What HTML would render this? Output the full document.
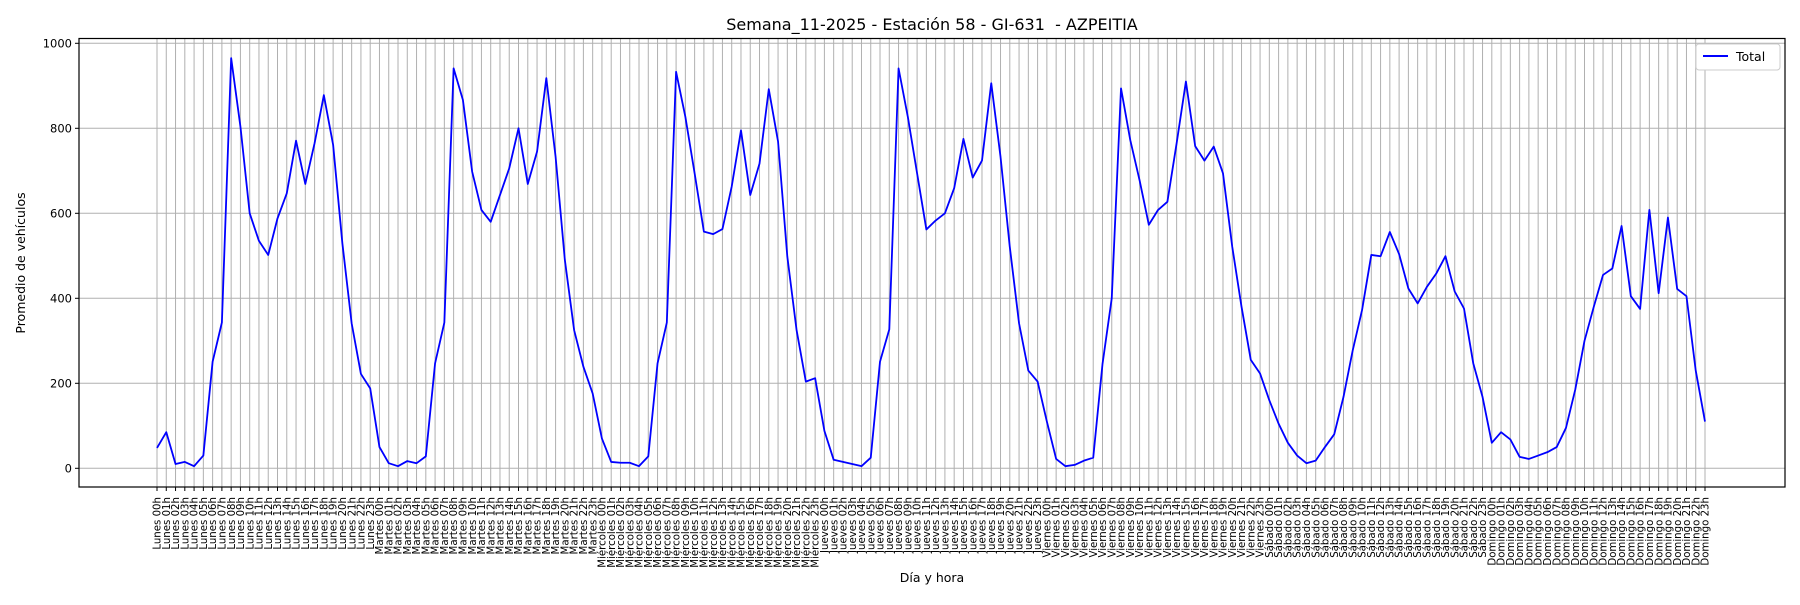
<!DOCTYPE html>
<html><head><meta charset="utf-8"><style>
body{margin:0;background:#fff;width:1800px;height:600px;overflow:hidden}
svg{font-family:"DejaVu Sans","Liberation Sans",sans-serif}
</style></head><body>
<svg id="chart" width="1800" height="600" viewBox="0 0 1800 600" xmlns="http://www.w3.org/2000/svg">
<rect width="1800" height="600" fill="#fff"/>
<text x="932" y="30" font-size="16" text-anchor="middle" style="white-space:pre">Semana_11-2025 - Estación 58 - GI-631  - AZPEITIA</text>
<text x="932" y="582" font-size="12.5" text-anchor="middle">Día y hora</text>
<text x="0" y="0" font-size="12.5" text-anchor="middle" transform="translate(25,263) rotate(-90)">Promedio de vehículos</text>
<g id="grid"></g><g id="ticks"></g><g id="series"></g>
<rect x="79" y="38.5" width="1706" height="448.5" fill="none" stroke="#000" stroke-width="1.2"/>
<g>
<rect x="1696" y="44" width="84" height="26" fill="#fff" stroke="#ccc" rx="3"/>
<line x1="1703" y1="56" x2="1728" y2="56" stroke="#0000ff" stroke-width="2"/>
<text x="1736" y="61" font-size="12.5">Total</text>
</g>
</svg>
<script>
const days = ["Lunes","Martes","Miércoles","Jueves","Viernes","Sábado","Domingo"];
const hours = ["00h","01h","02h","03h","04h","05h","06h","07h","08h","09h","10h","11h","12h","13h","14h","15h","16h","17h","18h","19h","20h","21h","22h","23h"];
const lunes = [48,85,10,15,5,30,251,343,965,804,600,535,502,588,647,771,669,765,878,761,529,341,222,188];
const martes = [50,12,5,17,12,28,247,343,941,867,698,608,580,643,706,800,669,745,918,733,490,325,239,176];
const miercoles = [70,15,13,13,5,28,247,343,933,827,694,557,551,563,663,795,643,717,892,769,498,325,204,212];
const jueves = [88,20,15,10,5,25,251,327,941,827,694,562,583,600,659,775,684,724,906,733,521,341,230,204];
const viernes = [110,22,5,8,18,25,245,400,894,772,678,573,608,627,765,910,758,724,757,694,521,380,255,223];
const sabado = [160,105,60,30,12,18,50,80,168,278,372,502,499,556,504,423,388,427,458,499,416,376,247,168];
const domingo = [60,85,68,27,22,30,38,50,95,185,300,380,455,470,570,405,375,608,412,590,422,405,230,110];
const yTicks = [0,200,400,600,800,1000];
const values = [].concat(lunes,martes,miercoles,jueves,viernes,sabado,domingo);
const labels = [];
days.forEach(d=>hours.forEach(h=>labels.push(d+" "+h)));
const NS="http://www.w3.org/2000/svg";
const X0=157, DX=(1705-157)/167;
const xs=i=>X0+i*DX;
const ys=v=>468.3-v*0.425;
function mk(tag,attrs,parent,txt){const e=document.createElementNS(NS,tag);for(const k in attrs)e.setAttribute(k,attrs[k]);if(txt!==undefined)e.textContent=txt;parent.appendChild(e);return e;}
const grid=document.getElementById('grid'), ticks=document.getElementById('ticks'), series=document.getElementById('series');
labels.forEach((l,i)=>{
  const x=xs(i);
  const g=mk('line',{x1:x,x2:x,y1:38.5,y2:487,stroke:'#b0b0b0','stroke-width':1},grid);
  
  
  const t=mk('line',{x1:x,x2:x,y1:487,y2:491,stroke:'#000','stroke-width':1},ticks);
  
  
  const tx=mk('text',{x:0,y:0,'font-size':10.2,'text-anchor':'end',transform:`translate(${x+3.6},497) rotate(-90)`},ticks,l);
  
  
});
yTicks.forEach(v=>{
  const y=ys(v);
  const g=mk('line',{x1:79,x2:1785,y1:y,y2:y,stroke:'#b0b0b0','stroke-width':1},grid);
  
  
  const t=mk('line',{x1:75,x2:79,y1:y,y2:y,stroke:'#000','stroke-width':1},ticks);
  
  
  const tx=mk('text',{x:72,y:y+4,'font-size':11.5,'text-anchor':'end'},ticks,String(v));
  
  
});
const p=mk('polyline',{points:values.map((v,i)=>xs(i).toFixed(2)+','+ys(v).toFixed(2)).join(' '),fill:'none',stroke:'#0000ff','stroke-width':1.8,'stroke-linejoin':'round'},series);


</script>
</body></html>
